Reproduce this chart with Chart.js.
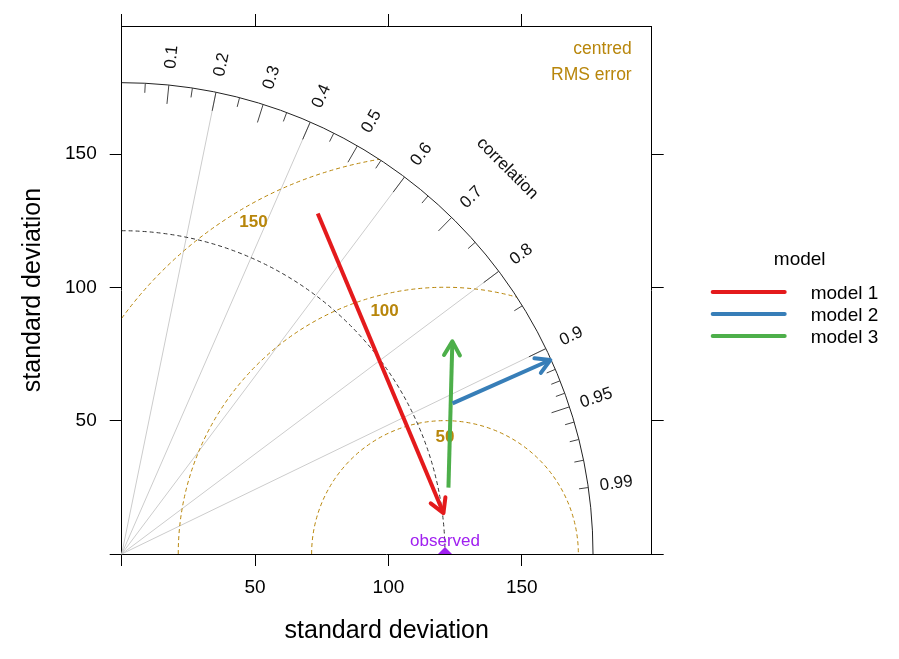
<!DOCTYPE html>
<html><head><meta charset="utf-8">
<script src="https://cdn.jsdelivr.net/npm/chart.js@4.4.1/dist/chart.umd.min.js"></script>
<style>html,body{margin:0;padding:0;background:#fff}#wrap{width:899px;height:659px;position:relative}</style>
</head><body><div id="wrap"><canvas id="c" width="899" height="659"></canvas></div>
<script>
// ---- data ----
const modelNames = ['model 1', 'model 2', 'model 3'];
const modelColors = ['#E41A1C', '#377EB8', '#4DAF4A'];
const sdFrom   = [147.3, 136.3, 125.0];
const corrFrom = [0.499, 0.910, 0.980];
const sdTo     = [121.6, 176.4, 147.4];
const corrTo   = [0.992, 0.911, 0.841];
const observedSd = 121.2;
const sdOuter = 176.7;
const xAxisMax = 198.7;
const yAxisMax = 198.0;
const sdTicks = [0, 50, 100, 150];
const rmsLevels = [50, 100, 150];
const rmsLabelAngles = [90, 104, 120];
const corrGrid = [0.2, 0.4, 0.6, 0.8, 0.9];
const corrMajor = [0.1, 0.2, 0.3, 0.4, 0.5, 0.6, 0.7, 0.8, 0.9, 0.95];
const corrMinor = [0.05, 0.15, 0.25, 0.35, 0.45, 0.55, 0.65, 0.75, 0.85, 0.91, 0.92, 0.93, 0.94, 0.96, 0.97, 0.98, 0.99];
const corrLabels = [0.1, 0.2, 0.3, 0.4, 0.5, 0.6, 0.7, 0.8, 0.9, 0.95, 0.99];

const FONT = '"Liberation Sans", Arial, sans-serif';
const GOLD = '#B8860B';
const PURPLE = '#A020F0';

function toXY(sd, c) { return {x: sd * c, y: sd * Math.sqrt(Math.max(0, 1 - c * c))}; }

const datasets = modelNames.map((name, i) => ({
  type: 'line', label: name,
  data: [toXY(sdFrom[i], corrFrom[i]), toXY(sdTo[i], corrTo[i])],
  borderColor: modelColors[i], backgroundColor: modelColors[i],
  borderWidth: 4, pointRadius: 0, fill: false, tension: 0, clip: false,
  xAxisID: 'x', yAxisID: 'y'
}));
datasets.push({
  type: 'scatter', label: 'observed', isObs: true,
  data: [{x: observedSd, y: 0}],
  pointStyle: 'rectRot', pointRadius: 7, backgroundColor: PURPLE, borderColor: PURPLE, borderWidth: 0,
  clip: 0, xAxisID: 'x', yAxisID: 'y'
});

const taylorPlugin = {
  id: 'taylor',
  beforeDatasetsDraw(chart) {
    const ctx = chart.ctx, xs = chart.scales.x, ys = chart.scales.y;
    const ox = xs.getPixelForValue(0), oy = ys.getPixelForValue(0);
    const k = xs.getPixelForValue(1) - ox;
    const P = (sd, c) => { const q = toXY(sd, c); return [xs.getPixelForValue(q.x), ys.getPixelForValue(q.y)]; };
    const Rpx = sdOuter * k;
    const obsX = xs.getPixelForValue(observedSd);
    ctx.save();
    // correlation grid lines
    ctx.strokeStyle = '#CCCCCC'; ctx.lineWidth = 1;
    corrGrid.forEach(c => { const p = P(sdOuter, c); ctx.beginPath(); ctx.moveTo(ox, oy); ctx.lineTo(p[0], p[1]); ctx.stroke(); });
    // RMS contours clipped to quarter disc
    ctx.save();
    ctx.beginPath(); ctx.moveTo(ox, oy); ctx.arc(ox, oy, Rpx, 1.5 * Math.PI, 2 * Math.PI); ctx.closePath(); ctx.clip();
    ctx.strokeStyle = GOLD; ctx.lineWidth = 1; ctx.setLineDash([4, 3]);
    rmsLevels.forEach(r => { ctx.beginPath(); ctx.arc(obsX, oy, r * k, Math.PI, 2 * Math.PI); ctx.stroke(); });
    ctx.restore();
    // observed sd arc
    ctx.strokeStyle = '#333'; ctx.lineWidth = 1; ctx.setLineDash([4, 3]);
    ctx.beginPath(); ctx.arc(ox, oy, observedSd * k, 1.5 * Math.PI, 2 * Math.PI); ctx.stroke();
    ctx.setLineDash([]);
    // outer arc
    ctx.strokeStyle = '#222'; ctx.lineWidth = 1;
    ctx.beginPath(); ctx.arc(ox, oy, Rpx, 1.5 * Math.PI, 2 * Math.PI); ctx.stroke();
    // ticks
    ctx.strokeStyle = '#444';
    corrMajor.forEach(c => { const a = P(sdOuter * 0.96, c), b = P(sdOuter, c); ctx.beginPath(); ctx.moveTo(a[0], a[1]); ctx.lineTo(b[0], b[1]); ctx.stroke(); });
    corrMinor.forEach(c => { const a = P(sdOuter * 0.98, c), b = P(sdOuter, c); ctx.beginPath(); ctx.moveTo(a[0], a[1]); ctx.lineTo(b[0], b[1]); ctx.stroke(); });
    // correlation labels
    ctx.fillStyle = '#111'; ctx.font = '17px ' + FONT; ctx.textAlign = 'center'; ctx.textBaseline = 'middle';
    corrLabels.forEach(c => {
      const p = P(sdOuter * 1.06, c);
      ctx.save(); ctx.translate(p[0], p[1]); ctx.rotate(-Math.acos(c)); ctx.fillText(String(c), 0, 0); ctx.restore();
    });
    { const p = P(sdOuter * 1.157, Math.SQRT1_2); ctx.save(); ctx.translate(p[0], p[1]); ctx.rotate(Math.PI / 4); ctx.fillText('correlation', 0, 0); ctx.restore(); }
    // contour labels
    ctx.fillStyle = GOLD; ctx.font = 'bold 17px ' + FONT;
    rmsLevels.forEach((r, i) => {
      const a = rmsLabelAngles[i] * Math.PI / 180, d = r * k - 17;
      ctx.fillText(String(r), obsX + d * Math.cos(a), oy - d * Math.sin(a));
    });
    // centred RMS error
    ctx.font = '17.5px ' + FONT; ctx.textAlign = 'right'; ctx.textBaseline = 'alphabetic';
    const ca = chart.chartArea;
    ctx.fillText('centred', ca.right - 20, ca.top + 28);
    ctx.fillText('RMS error', ca.right - 20, ca.top + 54);
    // observed label
    ctx.fillStyle = PURPLE; ctx.font = '17px ' + FONT; ctx.textAlign = 'center';
    ctx.fillText('observed', obsX, oy - 8);
    ctx.restore();
  },
  afterDatasetsDraw(chart) {
    const ctx = chart.ctx;
    ctx.save();
    chart.data.datasets.forEach((ds, i) => {
      if (ds.isObs) return;
      const pts = chart.getDatasetMeta(i).data;
      const a = pts[0], b = pts[1];
      const ang = Math.atan2(b.y - a.y, b.x - a.x);
      const L = 16, spread = 0.52;
      ctx.strokeStyle = ds.borderColor; ctx.lineWidth = 4; ctx.lineCap = 'round'; ctx.lineJoin = 'round';
      ctx.beginPath();
      ctx.moveTo(b.x - L * Math.cos(ang - spread), b.y - L * Math.sin(ang - spread));
      ctx.lineTo(b.x, b.y);
      ctx.lineTo(b.x - L * Math.cos(ang + spread), b.y - L * Math.sin(ang + spread));
      ctx.stroke();
    });
    ctx.restore();
  },
  afterDraw(chart) {
    const ctx = chart.ctx, ca = chart.chartArea;
    ctx.save();
    ctx.fillStyle = '#000'; ctx.font = '19px ' + FONT; ctx.textBaseline = 'middle';
    const lx = ca.right + 60, ty = 260;
    ctx.textAlign = 'center';
    ctx.fillText('model', lx + 88, ty);
    let row = 0;
    chart.data.datasets.forEach(ds => {
      if (ds.isObs) return;
      const y = ty + 32 + row * 22;
      ctx.strokeStyle = ds.borderColor; ctx.lineWidth = 4; ctx.lineCap = 'round';
      ctx.beginPath(); ctx.moveTo(lx + 1, y); ctx.lineTo(lx + 73, y); ctx.stroke();
      ctx.textAlign = 'left';
      ctx.fillText(ds.label, lx + 99, y + 2);
      row++;
    });
    ctx.restore();
  }
};

const setTicks = s => { s.ticks = sdTicks.map(v => ({value: v})); };
const baseTicks = {color: '#000', font: {family: FONT, size: 19}};
const baseGrid = {drawOnChartArea: false, drawTicks: true, tickLength: 12, color: '#000', lineWidth: 1};
const baseBorder = {display: true, color: '#000', width: 1};
const lab = v => v === 0 ? '' : String(v);

new Chart(document.getElementById('c'), {
  type: 'line',
  data: {datasets},
  options: {
    responsive: false, animation: false, devicePixelRatio: 1,
    layout: {padding: 0},
    plugins: {legend: {display: false}, tooltip: {enabled: false}},
    scales: {
      x: {type: 'linear', position: 'bottom', min: 0, max: xAxisMax,
        ticks: Object.assign({}, baseTicks, {padding: 10, maxRotation: 0, autoSkip: false, callback: lab}),
        grid: baseGrid, border: baseBorder,
        title: {display: true, text: 'standard deviation', color: '#000', font: {family: FONT, size: 25}, padding: {top: 0, bottom: 13}},
        afterBuildTicks: setTicks,
        afterFit: s => { s.height = 105; }},
      x2: {type: 'linear', position: 'top', min: 0, max: xAxisMax,
        ticks: Object.assign({}, baseTicks, {display: false, autoSkip: false}),
        grid: baseGrid, border: baseBorder,
        afterBuildTicks: setTicks,
        afterFit: s => { s.height = 26; }},
      y: {type: 'linear', position: 'left', min: 0, max: yAxisMax,
        ticks: Object.assign({}, baseTicks, {padding: 13, autoSkip: false, callback: lab}),
        grid: baseGrid, border: baseBorder,
        title: {display: true, text: 'standard deviation', color: '#000', font: {family: FONT, size: 25}, padding: {top: 18, bottom: 0}},
        afterBuildTicks: setTicks,
        afterFit: s => { s.width = 121.7; }},
      y2: {type: 'linear', position: 'right', min: 0, max: yAxisMax,
        ticks: Object.assign({}, baseTicks, {display: false, autoSkip: false}),
        grid: baseGrid, border: baseBorder,
        afterBuildTicks: setTicks,
        afterFit: s => { s.width = 247.3; }}
    }
  },
  plugins: [taylorPlugin]
});
</script>
</body></html>
